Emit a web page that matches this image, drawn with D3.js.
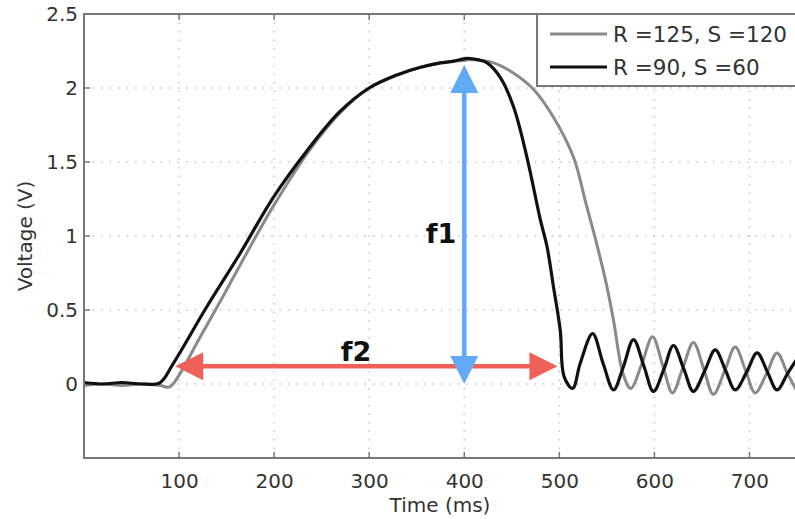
<!DOCTYPE html>
<html>
<head>
<meta charset="utf-8">
<script src="https://cdn.jsdelivr.net/npm/d3@7"></script>
<style>
  body { margin: 0; background: #fff; }
  text { font-family: "DejaVu Sans", sans-serif; }
</style>
</head>
<body>
<div class="box"></div>
<script>
// DATA
const timeTicks = [100, 200, 300, 400, 500, 600, 700];
const voltTicks = [0, 0.5, 1, 1.5, 2, 2.5];

const seriesNames = ['R =125, S =120', 'R =90, S =60'];

// R =125, S =120 (gray)
const grayTime = [0, 20, 40, 60, 80, 90, 101, 119, 146, 175, 199, 235, 269, 300, 330, 354, 375, 388, 403, 415, 431, 452, 473, 494, 515, 528, 540, 550, 557, 567, 575, 587, 598, 609, 619, 630, 641, 652, 662, 674, 685, 696, 706, 718, 729, 740, 750];
const grayVolt = [-0.01, 0.0, -0.01, 0.0, -0.01, -0.02, 0.07, 0.28, 0.59, 0.93, 1.2, 1.56, 1.83, 2.0, 2.09, 2.14, 2.17, 2.18, 2.19, 2.19, 2.17, 2.10, 1.99, 1.80, 1.53, 1.22, 0.93, 0.66, 0.43, 0.07, -0.03, 0.14, 0.32, 0.12, -0.06, 0.11, 0.28, 0.10, -0.07, 0.09, 0.25, 0.09, -0.06, 0.07, 0.21, 0.07, -0.05];

// R =90, S =60 (black)
const blackTime = [0, 20, 40, 60, 80, 94, 129, 164, 199, 235, 269, 300, 330, 354, 375, 388, 403, 415, 424, 438, 452, 466, 480, 487, 494, 501, 505, 514, 522, 535, 546, 557, 567, 578, 589, 599, 610, 620, 631, 641, 653, 664, 675, 685, 697, 708, 719, 729, 740, 750];
const blackVolt = [0.01, 0.0, 0.01, 0.0, 0.01, 0.14, 0.52, 0.88, 1.26, 1.58, 1.84, 2.0, 2.09, 2.14, 2.17, 2.18, 2.20, 2.19, 2.17, 2.07, 1.87, 1.53, 1.11, 0.93, 0.65, 0.36, 0.05, -0.03, 0.14, 0.34, 0.14, -0.04, 0.11, 0.30, 0.12, -0.05, 0.10, 0.26, 0.10, -0.05, 0.09, 0.23, 0.09, -0.04, 0.08, 0.21, 0.08, -0.04, 0.07, 0.17];

// annotation arrows: f1 (vertical) and f2 (horizontal)
const f1 = {t: 400, from: 0, to: 2.155};
const f2 = {v: 0.12, from: 96, to: 498};

// SETUP
const width = 795, height = 519;
const margin = {top: 14, right: -2, bottom: 61, left: 84};

const svg = d3.select('.box')
              .append('svg')
              .attr('width', width)
              .attr('height', height);

const x = d3.scaleLinear().domain([0, 750]).range([margin.left, width - margin.right]);
const y = d3.scaleLinear().domain([-0.5, 2.5]).range([height - margin.bottom, margin.top]);

const graph = svg.append('g');

// dotted grid
graph.append('g').selectAll('line')
     .data(timeTicks)
     .join('line')
     .attr('x1', d => x(d)).attr('x2', d => x(d))
     .attr('y1', y(2.5)).attr('y2', y(-0.5))
     .attr('stroke', '#c4c4c4').attr('stroke-width', 1.5)
     .attr('stroke-dasharray', '1.5,7');

graph.append('g').selectAll('line')
     .data(voltTicks.filter(d => d > -0.5 && d < 2.5))
     .join('line')
     .attr('x1', x(0)).attr('x2', x(750))
     .attr('y1', d => y(d)).attr('y2', d => y(d))
     .attr('stroke', '#c4c4c4').attr('stroke-width', 1.5)
     .attr('stroke-dasharray', '1.5,7');

// axes
const axeX = d3.axisBottom(x).tickValues(timeTicks).tickSize(0).tickPadding(16);
const axeY = d3.axisLeft(y).tickValues(voltTicks).tickSize(0).tickPadding(6)
               .tickFormat(d => d3.format('')(d));

const groupeX = svg.append('g').attr('transform', `translate(0, ${y(-0.5)})`).call(axeX);
const groupeY = svg.append('g').attr('transform', `translate(${x(0)}, 0)`).call(axeY);
[groupeX, groupeY].forEach(g => {
  g.select('.domain').remove();
  g.selectAll('text').style('font-size', '20px').attr('fill', '#333');
});

// inner tick marks
const tickLen = 6;
graph.append('g').selectAll('line')
     .data(timeTicks)
     .join('line')
     .attr('x1', d => x(d)).attr('x2', d => x(d))
     .attr('y1', y(-0.5)).attr('y2', y(-0.5) - tickLen)
     .attr('stroke', '#777').attr('stroke-width', 1.5);
graph.append('g').selectAll('line')
     .data(timeTicks)
     .join('line')
     .attr('x1', d => x(d)).attr('x2', d => x(d))
     .attr('y1', y(2.5)).attr('y2', y(2.5) + tickLen)
     .attr('stroke', '#777').attr('stroke-width', 1.5);
graph.append('g').selectAll('line')
     .data(voltTicks)
     .join('line')
     .attr('x1', x(0)).attr('x2', x(0) + tickLen)
     .attr('y1', d => y(d)).attr('y2', d => y(d))
     .attr('stroke', '#777').attr('stroke-width', 1.5);

// frame
svg.append('rect')
   .attr('x', x(0)).attr('y', y(2.5))
   .attr('width', x(750) - x(0)).attr('height', y(-0.5) - y(2.5))
   .attr('fill', 'none').attr('stroke', '#777').attr('stroke-width', 2);

// axis titles
svg.append('text')
   .text('Time (ms)')
   .attr('x', 440).attr('y', 512)
   .attr('text-anchor', 'middle')
   .style('font-size', '20px').attr('fill', '#333');
svg.append('text')
   .text('Voltage (V)')
   .attr('transform', `translate(32, 236) rotate(-90)`)
   .attr('text-anchor', 'middle')
   .style('font-size', '20px').attr('fill', '#333');

// lines
const line = d3.line()
               .x(d => x(d[0]))
               .y(d => y(d[1]))
               .curve(d3.curveCatmullRom.alpha(0.5));

const grayData = d3.zip(grayTime, grayVolt);
const blackData = d3.zip(blackTime, blackVolt);

graph.append('path').datum(grayData)
     .attr('d', line)
     .attr('fill', 'none').attr('stroke', '#8a8a8a').attr('stroke-width', 3);
graph.append('path').datum(blackData)
     .attr('d', line)
     .attr('fill', 'none').attr('stroke', '#111').attr('stroke-width', 3.2);

// arrows
const blue = '#62a9f6', red = '#ef6158';
const headLen = 28, headHalf = 14;

function arrowHead(g, tipX, tipY, dx, dy, color) {
  // dx, dy: unit direction of the arrow at its tip
  const bx = tipX - dx * headLen, by = tipY - dy * headLen;
  const px = -dy * headHalf, py = dx * headHalf;
  g.append('path')
   .attr('d', `M${tipX},${tipY}L${bx + px},${by + py}L${bx - px},${by - py}Z`)
   .attr('fill', color);
}

const arrows = svg.append('g');
// f2 (red, horizontal, double headed)
arrows.append('line')
      .attr('x1', x(f2.from) + headLen - 2).attr('x2', x(f2.to) - headLen + 2)
      .attr('y1', y(f2.v)).attr('y2', y(f2.v))
      .attr('stroke', red).attr('stroke-width', 4.5);
arrowHead(arrows, x(f2.from), y(f2.v), -1, 0, red);
arrowHead(arrows, x(f2.to), y(f2.v), 1, 0, red);

// f1 (blue, vertical, double headed)
arrows.append('line')
      .attr('x1', x(f1.t)).attr('x2', x(f1.t))
      .attr('y1', y(f1.to) + headLen - 2).attr('y2', y(f1.from) - headLen + 2)
      .attr('stroke', blue).attr('stroke-width', 4.5);
arrowHead(arrows, x(f1.t), y(f1.to), 0, -1, blue);
arrowHead(arrows, x(f1.t), y(f1.from), 0, 1, blue);

svg.append('text').text('f1')
   .attr('x', 441).attr('y', 243)
   .attr('text-anchor', 'middle')
   .style('font-size', '27px').style('font-weight', 'bold').attr('fill', '#111');
svg.append('text').text('f2')
   .attr('x', 356).attr('y', 361)
   .attr('text-anchor', 'middle')
   .style('font-size', '27px').style('font-weight', 'bold').attr('fill', '#111');

// legend
const legend = svg.append('g');
legend.append('rect')
      .attr('x', 537).attr('y', y(2.5))
      .attr('width', 270).attr('height', 72)
      .attr('fill', '#fff').attr('stroke', '#777').attr('stroke-width', 2);

const legendColors = ['#8a8a8a', '#111'];
seriesNames.forEach((name, i) => {
  const ly = 34 + i * 33;
  legend.append('line')
        .attr('x1', 550).attr('x2', 607)
        .attr('y1', ly).attr('y2', ly)
        .attr('stroke', legendColors[i]).attr('stroke-width', 3);
  legend.append('text')
        .text(name)
        .attr('x', 613).attr('y', ly + 8)
        .style('font-size', '21.5px').attr('fill', '#333');
});
</script>
</body>
</html>
